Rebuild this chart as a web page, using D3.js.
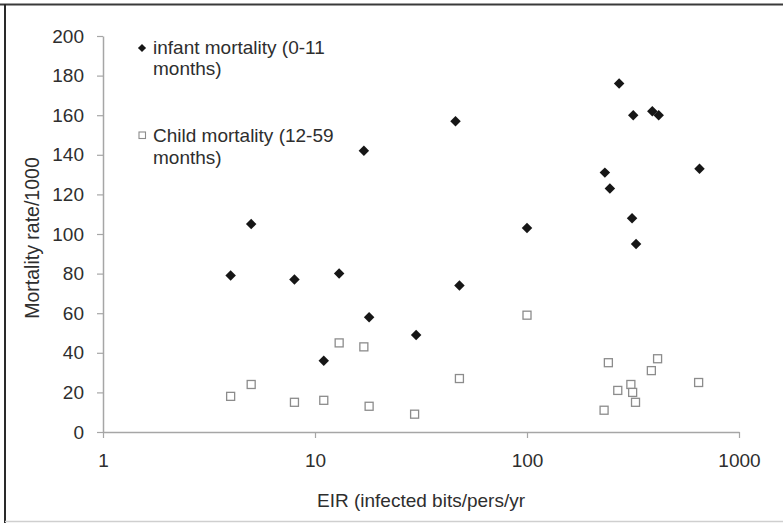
<!DOCTYPE html>
<html>
<head>
<meta charset="utf-8">
<script src="https://cdn.jsdelivr.net/npm/d3@7"></script>
<style>
  html, body { margin: 0; padding: 0; background: #fff; }
  svg { display: block; font-family: "Liberation Sans", Arial, sans-serif; }
</style>
</head>
<body>
<svg id="chart" width="783" height="523"></svg>
<script>
// EIR (infective bites per person per year) and mortality rates per 1000
const infantEIR = [4, 5, 8, 11, 13, 17, 18, 30, 46, 48, 100, 233, 246, 272, 313, 317, 327, 390, 418, 651];
const infantMortality = [79, 105, 77, 36, 80, 142, 58, 49, 157, 74, 103, 131, 123, 176, 108, 160, 95, 162, 160, 133];
const childEIR = [4, 5, 8, 11, 13, 17, 18, 29.5, 48, 100, 231, 242, 268, 309, 315, 325, 386, 413, 645];
const childMortality = [18, 24, 15, 16, 45, 43, 13, 9, 27, 59, 11, 35, 21, 24, 20, 15, 31, 37, 25];
const xTicks = [1, 10, 100, 1000];
const yTicks = [0, 20, 40, 60, 80, 100, 120, 140, 160, 180, 200];
const legendLabels = [["infant mortality (0-11", "months)"], ["Child mortality (12-59", "months)"]];

const svg = d3.select("#chart");
const W = 783, H = 523;
const textColor = "#2e2e2e";
const axisColor = "#a6a6a6";
const fs = 19;

// outer frame: dark top/left, light bottom
svg.append("line").attr("x1", 0).attr("x2", W).attr("y1", 4.5).attr("y2", 4.5)
  .attr("stroke", "#3a3a3a").attr("stroke-width", 2);
svg.append("line").attr("x1", 5).attr("x2", 5).attr("y1", 4).attr("y2", H)
  .attr("stroke", "#2a2a2a").attr("stroke-width", 2);
svg.append("line").attr("x1", 5).attr("x2", W).attr("y1", 521.5).attr("y2", 521.5)
  .attr("stroke", "#cfcfcf").attr("stroke-width", 1.5);

const x = d3.scaleLog().domain([1, 1000]).range([103, 739]);
const y = d3.scaleLinear().domain([0, 200]).range([432, 36]);

// y axis
const yAxis = svg.append("g").attr("transform", `translate(${x(1)},0)`)
  .call(d3.axisLeft(y).tickValues(yTicks).tickFormat(d3.format("d")).tickSize(6).tickSizeOuter(0));
yAxis.select(".domain").attr("stroke", axisColor).attr("stroke-width", 1.5);
yAxis.selectAll(".tick line").attr("stroke", axisColor).attr("stroke-width", 1.2);
yAxis.selectAll(".tick text").attr("fill", textColor).attr("font-size", fs)
  .attr("x", -19).attr("font-family", "Liberation Sans, Arial, sans-serif");

// x axis
const xAxis = svg.append("g").attr("transform", `translate(0,${y(0)})`)
  .call(d3.axisBottom(x).tickValues(xTicks).tickFormat(d3.format("d")).tickSize(6).tickSizeOuter(0));
xAxis.select(".domain").attr("stroke", axisColor).attr("stroke-width", 1.5);
xAxis.selectAll(".tick line").attr("stroke", axisColor).attr("stroke-width", 1.2);
xAxis.selectAll(".tick text").attr("fill", textColor).attr("font-size", fs)
  .attr("y", 22).attr("font-family", "Liberation Sans, Arial, sans-serif");

// axis titles
svg.append("text").attr("x", 421).attr("y", 507).attr("text-anchor", "middle")
  .attr("font-size", fs).attr("fill", textColor).text("EIR (infected bits/pers/yr");
svg.append("text").attr("transform", "translate(39,238) rotate(-90)").attr("text-anchor", "middle")
  .attr("font-size", fs + 0.5).attr("fill", textColor).text("Mortality rate/1000");

const diamond = d3.symbol().type(d3.symbolDiamond2).size(70);

// child mortality: open squares
svg.append("g").selectAll("rect").data(childEIR).join("rect")
  .attr("x", (d) => x(d) - 4).attr("y", (d, i) => y(childMortality[i]) - 4)
  .attr("width", 8).attr("height", 8)
  .attr("fill", "#fff").attr("stroke", "#8c8c8c").attr("stroke-width", 1.3);

// infant mortality: filled diamonds
svg.append("g").selectAll("path").data(infantEIR).join("path")
  .attr("transform", (d, i) => `translate(${x(d)},${y(infantMortality[i])})`)
  .attr("d", diamond).attr("fill", "#161616");

// legend
const lg = svg.append("g");
lg.append("path").attr("transform", "translate(142,48)").attr("d", d3.symbol().type(d3.symbolDiamond2).size(42)).attr("fill", "#161616");
lg.append("rect").attr("x", 139).attr("y", 132).attr("width", 6.5).attr("height", 6.5)
  .attr("fill", "#fff").attr("stroke", "#8c8c8c").attr("stroke-width", 1.1);
[[53.5, 0], [142, 1]].forEach(([base, k]) => {
  legendLabels[k].forEach((line, j) => {
    lg.append("text").attr("x", 153).attr("y", base + j * 21.5)
      .attr("font-size", fs).attr("fill", textColor).text(line);
  });
});
</script>
</body>
</html>
